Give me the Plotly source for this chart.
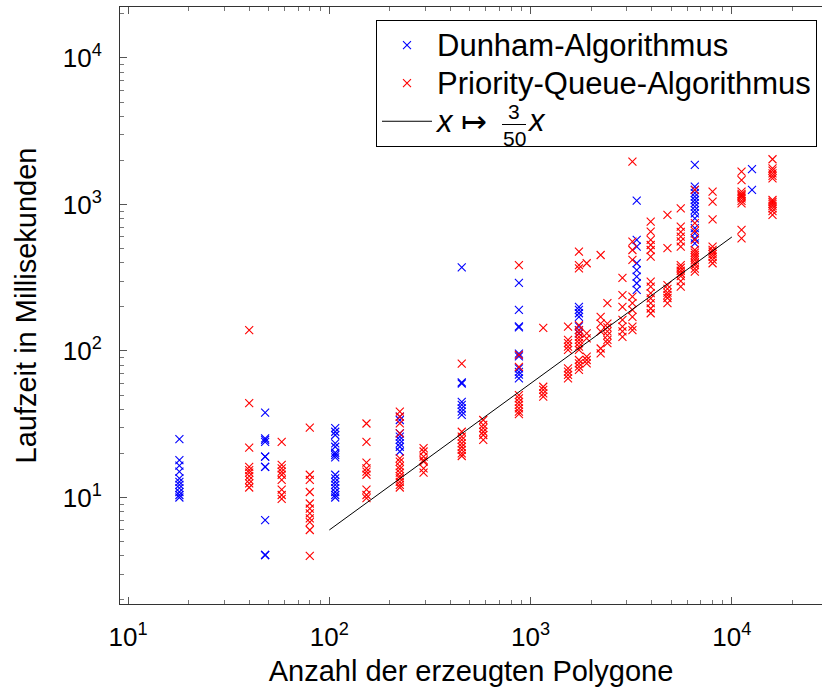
import plotly.graph_objects as go

# ---- data (polygon count -> runtime in ms) ----
dunham_sizes = [18, 48, 107, 224, 455, 875, 1739, 3367, 6546, 12590]
dunham_times = [
    [25, 18, 16.5, 15, 13.5, 12.8, 12.2, 11.6, 10.9, 10.4, 10],
    [38, 25.3, 24.7, 24, 19, 19, 16.2, 16.2, 7, 4.05, 4.05],
    [29.7, 28.1, 26.7, 23.4, 22.2, 20.2, 19.5, 18.8, 14.3, 13.5, 12.8, 12.2, 11.6, 10.9, 10.4, 10],
    [35.6, 33.8, 27.4, 26, 24.7, 23.4, 22.2, 20.6],
    [372, 61, 60, 45, 42.8, 40.6, 38.5, 36.6],
    [292, 191, 147, 145, 96, 92, 76, 72, 69, 65],
    [200, 191, 181, 171, 147, 139, 132],
    [1062, 573, 516, 397, 357, 322, 290, 261],
    [1862, 1325, 1260, 1197, 1130, 1073, 1020, 967, 915, 871, 805, 689, 636, 588, 543],
    [1746, 1257],
]

pq_sizes = [40, 58, 80, 153, 224, 294, 455, 582, 875, 1156, 1535, 1739,
            1900, 2229, 2408, 2860, 3206, 3951, 4786, 5572, 6546, 8020, 11170, 15920]
pq_times = [
    [139, 44, 21.9, 16.2, 15.4, 14.8, 14.0, 13.2, 12.5, 11.7],
    [24, 16.7, 15.8, 15, 14.3, 13.2, 11.3, 10.4, 9.8],
    [30, 14.3, 13.2, 10.9, 9.1, 8.4, 7.8, 7.2, 6.8, 6.0, 4.0],
    [32, 24, 17.3, 15.8, 15, 14.3, 11.3, 10.4, 9.9],
    [38.5, 35.6, 32.1, 27.4, 18.5, 17.6, 16.4, 15.6, 14.8, 14, 13.5, 12.8, 12.2, 11.7],
    [21.7, 20.6, 19, 18, 17.6, 15.8, 14.8],
    [82, 28.1, 26, 24.7, 23.4, 22.2, 21.1, 20, 19.2],
    [33.8, 31.3, 29.7, 28.1, 26.7, 24.7],
    [386, 94, 78, 50, 47.5, 45, 42.8, 40.6, 38.5, 37.1],
    [144, 57, 54.2, 51.4, 48.8],
    [146.6, 119, 113, 107, 101.6, 76.2, 72.3, 68.6, 65.1],
    [476, 386, 366, 150, 139, 132, 125, 119, 113, 107, 101.6, 86.8, 82.4, 78.2, 74.2],
    [397, 131.7, 122, 91.5, 86.8, 82.4],
    [452, 171, 154, 136, 104, 96.4],
    [212, 154, 145, 136, 128, 119, 113],
    [316, 241, 200, 163, 146.6, 136, 125],
    [1960, 557, 489, 418, 235, 212, 191, 171, 146.6, 139],
    [764, 652, 573, 529, 489, 441, 297, 275, 248, 229, 212, 195, 181],
    [848, 503, 282, 265, 250, 241, 230, 212],
    [942, 707, 650, 603, 560, 516, 386, 370, 353, 338, 324, 300, 275],
    [1257, 745, 660, 573, 489, 470, 452, 435, 418, 400, 386, 365, 348],
    [1222, 1045, 792, 516, 490, 476, 458, 441, 420, 397],
    [1675, 1469, 1222, 1180, 1156, 1130, 1101, 1060, 1019, 670, 588],
    [2036, 1766, 1700, 1630, 1570, 1510, 1073, 1040, 1010, 977, 940, 900, 848],
]

line_n = [100, 10000]
line_numerator = 3
line_denominator = 50

x_tick_vals = [10, 100, 1000, 10000]
x_tick_text = ["10<sup>1</sup>", "10<sup>2</sup>", "10<sup>3</sup>", "10<sup>4</sup>"]
y_tick_vals = [10, 100, 1000, 10000]
y_tick_text = ["10<sup>1</sup>", "10<sup>2</sup>", "10<sup>3</sup>", "10<sup>4</sup>"]


def flatten(sizes, times):
    xs, ys = [], []
    for n, ts in zip(sizes, times):
        xs.extend([n] * len(ts))
        ys.extend(ts)
    return xs, ys


dx, dy = flatten(dunham_sizes, dunham_times)
px_, py_ = flatten(pq_sizes, pq_times)

FONT = "Liberation Sans"


def big(s):
    return '<span style="font-size:31px">' + s + "</span>"


fig = go.Figure()
fig.add_trace(go.Scatter(
    x=dx, y=dy, mode="markers", name=big("Dunham-Algorithmus"),
    marker=dict(symbol="x-thin", size=8, color="#0000ff",
                line=dict(width=1.1, color="#0000ff")),
))
fig.add_trace(go.Scatter(
    x=px_, y=py_, mode="markers", name=big("Priority-Queue-Algorithmus"),
    marker=dict(symbol="x-thin", size=8, color="#ff0000",
                line=dict(width=1.1, color="#ff0000")),
))
fig.add_trace(go.Scatter(
    x=line_n, y=[line_numerator / line_denominator * n for n in line_n], mode="lines",
    name=big("<i>x</i> ↦"),
    line=dict(color="black", width=1),
))

minor_vals = [m * 10 ** k for k in range(0, 6) for m in range(2, 10)]

# stacked fraction 3/50 and trailing x of the legend entry (paper coords of the plot area)
L, R, T, B = 120, 822, 7, 604
def pxx(p):
    return (p - L) / (R - L)
def pyy(p):
    return (B - p) / (B - T)

frac_cx = 514
bar_y = 124.5
fig.add_annotation(x=pxx(frac_cx), y=pyy(bar_y - 13), xref="paper", yref="paper",
                   text=str(line_numerator), showarrow=False,
                   font=dict(family=FONT, size=21), xanchor="center", yanchor="middle")
fig.add_annotation(x=pxx(frac_cx), y=pyy(bar_y + 14), xref="paper", yref="paper",
                   text=str(line_denominator), showarrow=False,
                   font=dict(family=FONT, size=21), xanchor="center", yanchor="middle")
fig.add_annotation(x=pxx(525), y=pyy(120), xref="paper", yref="paper",
                   text="<i>x</i>", showarrow=False,
                   font=dict(family=FONT, size=31), xanchor="left", yanchor="middle")
fig.add_shape(type="line", xref="paper", yref="paper",
              x0=pxx(502), x1=pxx(526), y0=pyy(bar_y), y1=pyy(bar_y),
              line=dict(color="black", width=1))

fig.update_layout(
    width=822, height=691,
    margin=dict(l=120, r=0, t=7, b=87),
    paper_bgcolor="white", plot_bgcolor="white",
    font=dict(family=FONT, color="black", size=26),
    legend=dict(
        x=pxx(817), y=pyy(20), xanchor="right", yanchor="top",
        bordercolor="black", borderwidth=1, bgcolor="rgba(0,0,0,0)",
        font=dict(family=FONT, size=27),
        itemwidth=50,
    ),
    showlegend=True,
)
fig.update_xaxes(
    type="log", range=[0.9602, 4.4478],
    tickmode="array", tickvals=x_tick_vals, ticktext=x_tick_text,
    ticks="inside", ticklen=7, tickcolor="#555", tickwidth=1,
    minor=dict(ticks="inside", ticklen=4, tickcolor="#777", tickmode="array",
               tickvals=minor_vals, showgrid=False),
    showline=True, linecolor="#333", linewidth=1, mirror="allticks",
    showgrid=False, zeroline=False,
    tickfont=dict(size=26), ticklabelstandoff=10,
    title=dict(text="Anzahl der erzeugten Polygone", font=dict(size=29), standoff=9),
)
fig.update_yaxes(
    type="log", range=[0.273, 4.348],
    tickmode="array", tickvals=y_tick_vals, ticktext=y_tick_text,
    ticks="inside", ticklen=7, tickcolor="#555", tickwidth=1,
    minor=dict(ticks="inside", ticklen=4, tickcolor="#777", tickmode="array",
               tickvals=minor_vals, showgrid=False),
    showline=True, linecolor="#333", linewidth=1, mirror=False,
    showgrid=False, zeroline=False,
    tickfont=dict(size=26), ticklabelstandoff=12,
    title=dict(text="Laufzeit in Millisekunden", font=dict(size=29), standoff=17),
)

fig.write_html("out.html", post_script="document.body.style.margin='0';",
               config={"displayModeBar": False})
